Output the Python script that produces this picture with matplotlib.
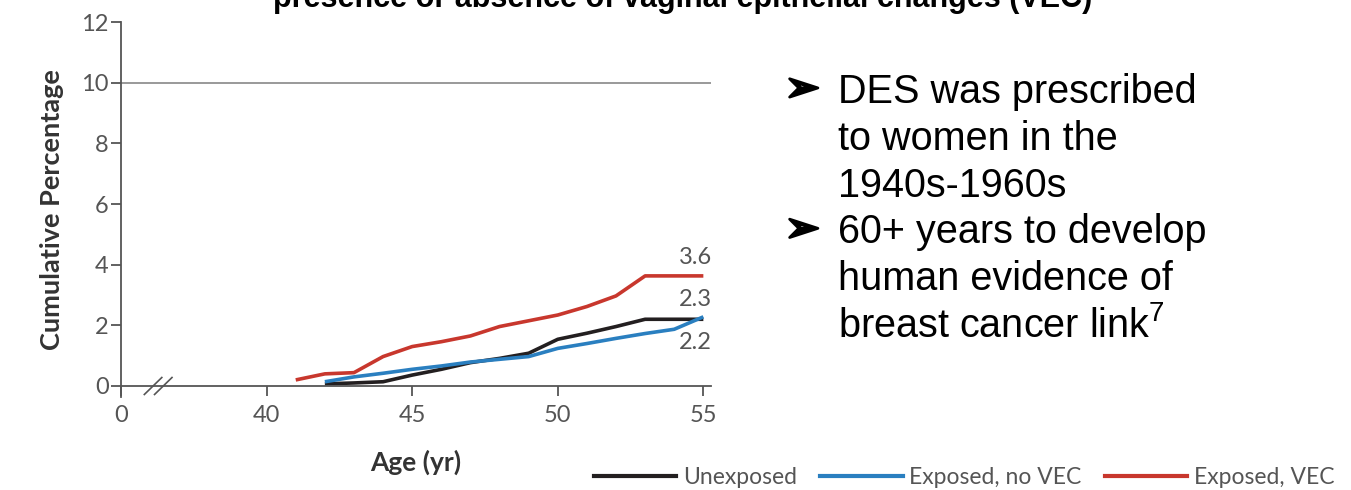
import numpy as np
import matplotlib.pyplot as plt
import matplotlib.patheffects as pe
from matplotlib.lines import Line2D

plt.rcParams['font.family'] = ['Lato', 'DejaVu Sans']
plt.rcParams['mathtext.fontset'] = 'custom'
plt.rcParams['mathtext.rm'] = 'Liberation Sans'
plt.rcParams['mathtext.default'] = 'regular'

# cumulative incidence (age in years, percent)
age_vec = [41, 42, 43, 44, 45, 46, 47, 48, 49, 50, 51, 52, 53, 55]
pct_vec = [0.2, 0.4, 0.44, 0.97, 1.3, 1.46, 1.65, 1.96, 2.15, 2.34, 2.62, 2.97, 3.63, 3.63]

age_unexp = [42, 43, 44, 45, 46, 47, 48, 49, 50, 51, 52, 53, 55]
pct_unexp = [0.07, 0.1, 0.14, 0.36, 0.55, 0.77, 0.91, 1.08, 1.54, 1.74, 1.96, 2.2, 2.2]

age_novec = [42, 43, 44, 45, 46, 47, 48, 49, 50, 51, 52, 53, 54, 55]
pct_novec = [0.14, 0.3, 0.42, 0.55, 0.66, 0.79, 0.88, 0.97, 1.24, 1.4, 1.57, 1.73, 1.87, 2.28]

end_labels = ["3.6", "2.3", "2.2"]
end_label_y = [4.25, 2.85, 1.45]

series_names = ["Unexposed", "Exposed, no VEC", "Exposed, VEC"]
colors = ["#231f20", "#2a7fc0", "#c8372d"]

bullet_lines = ["DES was prescribed", "to women in the", "1940s-1960s",
                "60+ years to develop", "human evidence of", "breast cancer link$^{7}$"]
bullet_starts = [0, 3]

fig = plt.figure(figsize=(13.51, 4.9), dpi=100)
ax = fig.add_axes([0.0896, 0.1906, 0.4364, 0.7644])

ax.plot(age_unexp, pct_unexp, color=colors[0], lw=2.6, solid_capstyle='butt')
ax.plot(age_novec, pct_novec, color=colors[1], lw=2.6, solid_capstyle='butt')
ax.plot(age_vec, pct_vec, color=colors[2], lw=2.6, solid_capstyle='butt')

ax.set_xlim(35, 55.25)
ax.set_ylim(-0.35, 12)
ax.axhline(10, color='#888888', lw=1.2, zorder=0)

for s in ['top', 'right']:
    ax.spines[s].set_visible(False)
ax.spines['bottom'].set_position(('data', 0))
for s in ['bottom', 'left']:
    ax.spines[s].set_color('#555555')
    ax.spines[s].set_linewidth(1.3)

ax.set_xticks([35, 40, 45, 50, 55])
ax.set_xticklabels(["0", "40", "45", "50", "55"])
ax.set_yticks([0, 2, 4, 6, 8, 10, 12])
ax.tick_params(colors='#555555', labelsize=17, length=7, width=1.3, direction='out')
ax.tick_params(axis='x', pad=7)
ax.tick_params(axis='y', pad=2)

# axis break marks
for xb in [36.1, 36.45]:
    ax.plot([xb - 0.3, xb + 0.3], [-0.28, 0.28], color='#555555', lw=1.2, clip_on=False)

ax.set_ylabel("Cumulative Percentage", fontsize=19.5, fontweight='bold', color='#333333', labelpad=12)
ax.set_xlabel("Age (yr)", fontsize=19, fontweight='bold', color='#333333', labelpad=17)

for t, yv in zip(end_labels, end_label_y):
    ax.text(55.3, yv, t, ha='right', va='center', fontsize=17, color='#555555')

# title cut off at top of the slide
fig.text(0.505, 1 - 7 / 490, "presence or absence of vaginal epithelial changes (VEC)",
         ha='center', va='baseline', fontsize=22, fontweight='bold',
         family=['Liberation Sans', 'DejaVu Sans'])

# bullets on the right
for i, line in enumerate(bullet_lines):
    yb = 1 - (103 + 46.8 * i) / 490
    fig.text(838 / 1351, yb, line, ha='left', va='baseline', fontsize=28.5,
             family=['Liberation Sans', 'DejaVu Sans'])
    if i in bullet_starts:
        fig.text(785 / 1351, yb + 14 / 490, "\u27a2", ha='left', va='center', fontsize=30,
                 family=['DejaVu Sans'],
                 path_effects=[pe.withStroke(linewidth=2, foreground='black')])

handles = [Line2D([], [], color=c, lw=3) for c in colors]
fig.legend(handles, series_names, loc='lower right', bbox_to_anchor=(1.003, -0.038),
           ncol=3, frameon=False, fontsize=16.5, handlelength=3.6,
           columnspacing=1.0, handletextpad=0.3, labelcolor='#555555')

fig.savefig("out.png", dpi=100)
